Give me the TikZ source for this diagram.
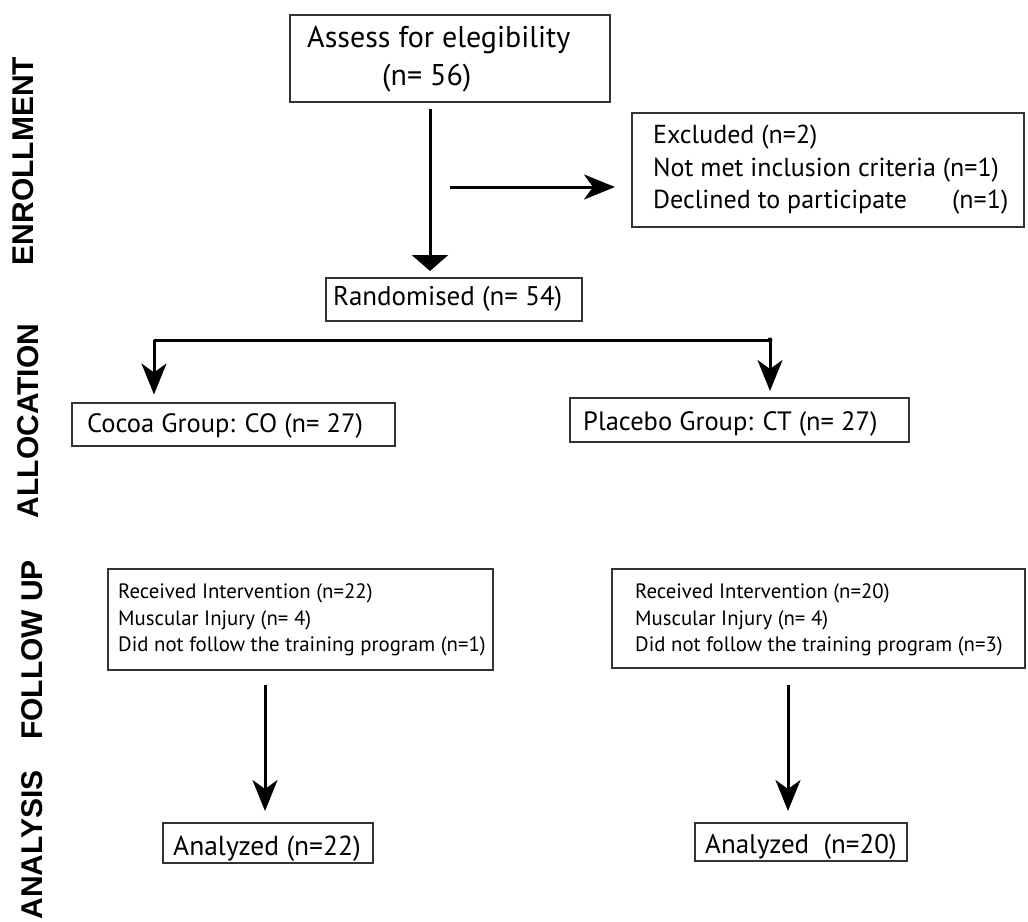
\documentclass[tikz,border=0pt]{standalone}
\usepackage{fontspec}
\setmainfont{PT Sans}
\newfontfamily\lblfont{Liberation Sans}
\usetikzlibrary{arrows.meta,calc}
\tikzset{
  box/.style={draw=black!80, line width=2pt, rectangle, inner sep=0pt, anchor=center},
  txt/.style={inner sep=0pt, anchor=base west},
  big/.style={txt, font=\fontsize{26.5}{30}\selectfont},
  sml/.style={txt, font=\fontsize{20.8}{24}\selectfont},
  sidelbl/.style={font=\lblfont\bfseries\fontsize{30}{32}\selectfont, rotate=90, inner sep=0pt, anchor=center},
  conn/.style={line width=3pt, black},
  arr/.style={conn, -{Stealth[length=31pt,width=25pt,inset=9pt]}},
  tri/.style={conn, -{Triangle[length=16pt,width=36pt]}}
}
\begin{document}
\begin{tikzpicture}[x=1pt,y=-1pt]
\useasboundingbox[fill=white] (0,0) rectangle (1028,921);
% side labels
\node[sidelbl] (lenr) at (23,161) {ENROLLMENT};
\node[sidelbl] (lall) at (28,421) {ALLOCATION};
\node[sidelbl] (lfol) at (32,650) {FOLLOW UP};
\node[sidelbl] (lana) at (32,845) {ANALYSIS};
% boxes
\node[box, minimum width=320pt, minimum height=87pt] (assess) at (450,58.5) {};
\node[box, minimum width=256pt, minimum height=43pt] (rand) at (454,299.5) {};
\node[box, minimum width=392pt, minimum height=114pt] (excl) at (828,170) {};
\node[box, minimum width=323pt, minimum height=43pt] (cocoa) at (233.5,424) {};
\node[box, minimum width=339pt, minimum height=44pt] (plac) at (739.5,420) {};
\node[box, minimum width=385pt, minimum height=101pt] (folL) at (300.5,619.5) {};
\node[box, minimum width=413pt, minimum height=99pt] (folR) at (818.5,618.5) {};
\node[box, minimum width=210pt, minimum height=40pt] (anaL) at (268,843) {};
\node[box, minimum width=212pt, minimum height=38pt] (anaR) at (801,842) {};
% texts
\node[txt, font=\fontsize{30}{34}\selectfont] (t1) at (307,47) {Assess for elegibility};
\node[txt, font=\fontsize{30}{34}\selectfont] (t2) at (382,85) {(n= 56)};
\node[big, font=\fontsize{27}{30}\selectfont] (t3) at (333,305) {Randomised (n= 54)};
\node[big, font=\fontsize{26}{30}\selectfont] (t4) at (653,143) {Excluded (n=2)};
\node[big, font=\fontsize{26}{30}\selectfont] (t5) at (653,176) {Not met inclusion criteria (n=1)};
\node[big, font=\fontsize{26}{30}\selectfont] (t6) at (653,208) {Declined to participate};
\node[big, font=\fontsize{26}{30}\selectfont] (t7) at (952,208) {(n=1)};
\node[big] (t8) at (87,432) {Cocoa Group: CO (n= 27)};
\node[big] (t9) at (583,430) {Placebo Group: CT (n= 27)};
\node[sml] (t10) at (118,598) {Received Intervention (n=22)};
\node[sml] (t11) at (118,625) {Muscular Injury (n= 4)};
\node[sml] (t12) at (118,651) {Did not follow the training program (n=1)};
\node[sml] (t13) at (635,598) {Received Intervention (n=20)};
\node[sml] (t14) at (635,625) {Muscular Injury (n= 4)};
\node[sml] (t15) at (635,651) {Did not follow the training program (n=3)};
\node[big, font=\fontsize{27.5}{30}\selectfont] (t16) at (173,855) {Analyzed (n=22)};
\node[big, font=\fontsize{27}{30}\selectfont] (t17) at (705,853) {Analyzed\ \ (n=20)};
% connectors
\draw[tri] ($(assess.south)+(-20,6)$) -- ($(rand.north)+(-24,-6)$);
\coordinate (exstart) at (450,187);
\draw[arr] (exstart) -- ($(excl.west)+(-16,17)$);
\coordinate (spL) at (154,340);
\coordinate (spR) at (770,340);
\draw[conn] (spL) -- (spR);
\draw[arr] (spL) -- ($(cocoa.north -| spL)+(0,-7)$);
\draw[arr] (spR) -- ($(plac.north -| spR)+(0,-6)$);
\fill (spR) circle (2.5pt);
\coordinate (fL) at (265,685);
\coordinate (fR) at (788,685);
\draw[arr] (fL) -- ($(anaL.north -| fL)+(0,-11)$);
\draw[arr] (fR) -- ($(anaR.north -| fR)+(0,-11)$);
\end{tikzpicture}
\end{document}
